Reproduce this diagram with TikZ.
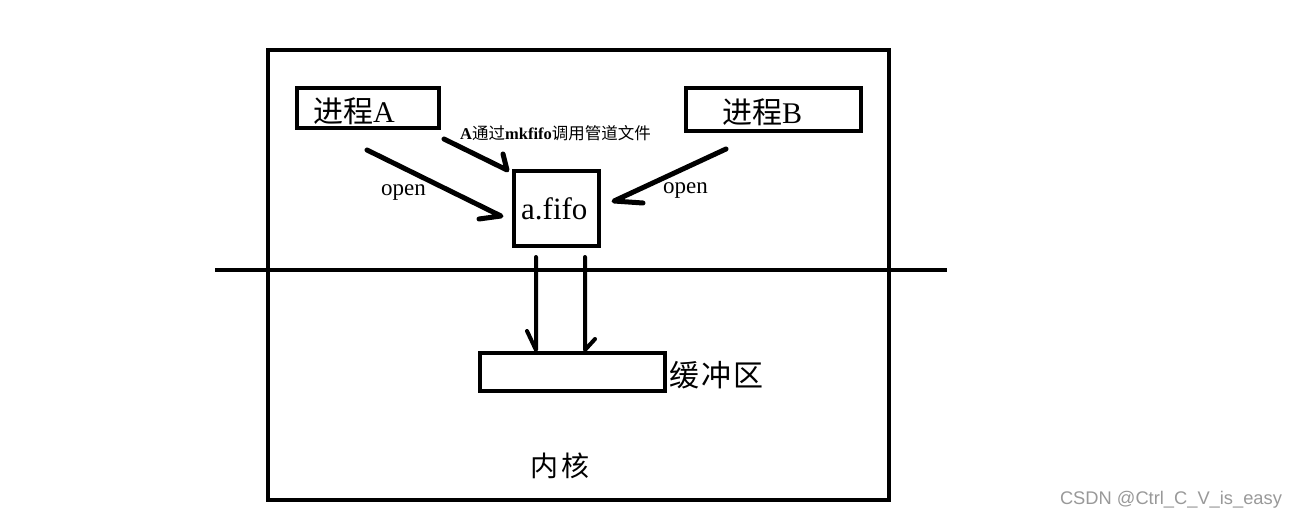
\documentclass[tikz,border=0pt]{standalone}
\usepackage{fontspec}
\setmainfont{Liberation Serif}
\newfontfamily\cjk{Noto Sans CJK SC}
\newfontfamily\cjkwide[LetterSpace=8]{Noto Sans CJK SC}
\newfontfamily\wmfont{Liberation Sans}
\begin{document}
\begin{tikzpicture}[x=1pt,y=-1pt,
  box/.style={draw=black,line width=4pt,inner sep=0pt,fill=none},
  arr/.style={draw=black,line width=5pt,line cap=round,line join=round},
  bigtxt/.style={inner sep=0pt,font=\fontsize{30}{32}\selectfont},
  smalltxt/.style={inner sep=0pt,font=\fontsize{16.5}{18}\selectfont\bfseries},
  opentxt/.style={inner sep=0pt,font=\fontsize{23}{25}\selectfont}]
\useasboundingbox (0,0) rectangle (1291,520);
\fill[white] (0,0) rectangle (1291,520);
% boxes
\node[box,minimum width=621pt,minimum height=450pt] (kernel) at (578.5,275) {};
\node[box,minimum width=142pt,minimum height=40pt] (procA) at (368,108) {};
\node[box,minimum width=175pt,minimum height=43pt] (procB) at (773.5,109.5) {};
\node[box,minimum width=85pt,minimum height=75pt] (fifo) at (556.5,208.5) {};
\node[box,minimum width=185pt,minimum height=38pt] (buf) at (572.5,372) {};
% divider line
\coordinate (dl) at (215,270);
\coordinate (dr) at (947,270);
\draw[line width=4pt] (dl) -- (dr);
% texts
\node[bigtxt,anchor=base west] (tA) at (313,122) {{\cjk 进程}A};
\node[bigtxt,anchor=base west] (tB) at (722,123) {{\cjk 进程}B};
\node[inner sep=0pt,anchor=base west,font=\fontsize{31}{33}\selectfont] (tf) at (521,219) {a.fifo};
\node[inner sep=0pt,anchor=west,font=\fontsize{30}{32}\selectfont] (tbuf) at (669,375) {\cjkwide 缓冲区};
\node[inner sep=0pt,font=\fontsize{28}{30}\selectfont] (tk) at (560,466) {\cjkwide 内核};
\node[smalltxt,anchor=base west] (tmk) at (460,139) {A{\cjk\mdseries 通过}mkfifo{\cjk\mdseries 调用管道文件}};
\node[opentxt,anchor=base west] (o1) at (381,195) {open};
\node[opentxt,anchor=base west] (o2) at (663,193) {open};
\node[inner sep=0pt,text=black!40,font=\wmfont\fontsize{18.3}{20}\selectfont] (wm) at (1171,500) {CSDN @Ctrl\_C\_V\_is\_easy};
% arrows
\coordinate (a1s) at (367,150); \coordinate (a1e) at (501,216); \coordinate (a1b) at (479,219);
\coordinate (a2s) at (444,139); \coordinate (a2e) at (507,170); \coordinate (a2b) at (503,154);
\coordinate (a3s) at (726,149); \coordinate (a3e) at (614,201); \coordinate (a3b) at (643,203);
\coordinate (a4s) at (536,257); \coordinate (a4e) at (536,350); \coordinate (a4b) at (527,331);
\coordinate (a5s) at (585,257); \coordinate (a5e) at (585,350); \coordinate (a5b) at (595,339);
\draw[arr] (a1s) -- (a1e) -- (a1b);
\draw[arr] (a2s) -- (a2e) -- (a2b);
\draw[arr] (a3s) -- (a3e) -- (a3b);
\draw[arr,line width=4pt] (a4s) -- (a4e) -- (a4b);
\draw[arr,line width=4pt] (a5s) -- (a5e) -- (a5b);
\end{tikzpicture}
\end{document}
